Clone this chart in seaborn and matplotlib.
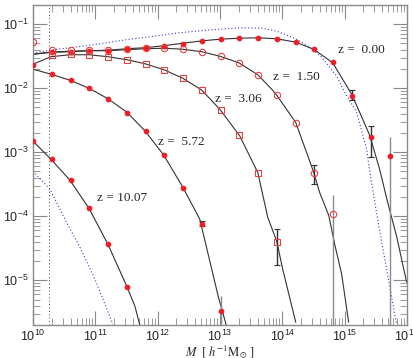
import numpy as np
import pandas as pd
import seaborn as sns
import matplotlib.pyplot as plt

# ── data points (mass bins, M/h^-1 Msun) ─────────────────────────────────────
mass = [1.0e10, 2.0e10, 4.0e10, 8.0e10, 1.6e11, 3.2e11, 6.4e11, 1.28e12, 2.56e12,
        5.12e12, 1.02e13, 2.05e13, 4.10e13, 8.19e13, 1.64e14, 3.28e14, 6.55e14,
        1.31e15, 2.62e15, 5.24e15]

z000_y = [np.nan, 0.0372, 0.0365, 0.0379, 0.0379, 0.0407, 0.0422, 0.0453, 0.0496, 0.0542,
          0.0583, 0.0604, 0.0611, 0.0598, 0.0523, 0.0407, 0.0255, 0.00764, 0.00171, 0.000866]
z150_y = [0.0533, 0.0397, 0.0392, 0.0397, 0.0392, 0.0407, 0.0422, 0.0422, 0.0403, 0.0369,
          0.0316, 0.0252, 0.0160, 0.00785, 0.00291, 0.000482, 0.000107]
z306_y = [np.nan, 0.0328, 0.0340, 0.0331, 0.0308, 0.0277, 0.0241, 0.0193, 0.0142, 0.00931,
          0.00453, 0.00189, 0.000467, 4.03e-5]
z572_y = [0.0229, 0.0166, 0.0133, 0.0100, 0.00686, 0.00417, 0.00215, 0.000898, 0.000281,
          7.69e-5, 3.31e-6]
z1007_y = [0.00149, 0.000778, 0.000365, 0.000133, 3.65e-5, 7.98e-6]

# error bars: (mass index, value, lower err, upper err)
z000_err = [(17, 0.00764, 0.0010, 0.0017), (18, 0.00171, 0.00086, 0.00087), (19, 0.000866, 0.000865, 0.00084)]
z150_err = [(15, 0.000482, 0.00016, 0.00016), (16, 0.000107, 0.0001069, 0.000106)]
z306_err = [(13, 4.03e-5, 2.3e-5, 2.3e-5)]
z572_err = [(9, 7.69e-5, 0.6e-5, 0.6e-5), (10, 3.31e-6, 3.309e-6, 2.4e-6)]

# ── fitted curves (log10 M, log10 y) ─────────────────────────────────────────
fit000_lm = [10.0, 10.288, 10.593, 10.897, 11.202, 11.506, 11.795, 12.099, 12.404, 12.708, 12.997,
             13.301, 13.606, 13.910, 14.215, 14.503, 14.808, 15.112, 15.240, 15.401, 15.561,
             15.689, 15.833, 15.994]
fit000_ly = [-1.469, -1.4375, -1.430, -1.414, -1.406, -1.383, -1.367, -1.336, -1.297, -1.261, -1.234,
             -1.219, -1.2125, -1.227, -1.281, -1.391, -1.602, -2.094, -2.375, -2.734, -3.266,
             -3.781, -4.3125, -5.031]
fit150_lm = [10.0, 10.288, 10.593, 10.897, 11.202, 11.506, 11.795, 12.099, 12.404, 12.708, 12.997,
             13.301, 13.606, 13.830, 13.910, 14.215, 14.503, 14.599, 14.744, 14.840, 14.952, 15.064]
fit150_ly = [-1.469, -1.4375, -1.422, -1.414, -1.414, -1.398, -1.383, -1.375, -1.391, -1.430, -1.5,
             -1.602, -1.789, -2.016, -2.109, -2.536, -3.3125, -3.63, -3.984, -4.4375, -4.906, -5.656]
fit306_lm = [10.0, 10.288, 10.593, 10.897, 11.202, 11.506, 11.795, 12.099, 12.404, 12.708, 12.997,
             13.317, 13.606, 13.766, 13.910, 14.006, 14.215]
fit306_ly = [-1.625, -1.508, -1.477, -1.477, -1.508, -1.555, -1.617, -1.711, -1.844, -2.031, -2.328,
             -2.745, -3.317, -4.016, -4.391, -4.828, -5.656]
fit572_lm = [10.0, 10.288, 10.593, 10.897, 11.202, 11.506, 11.795, 12.099, 12.404, 12.676, 12.970, 13.141]
fit572_ly = [-1.703, -1.781, -1.875, -2.0, -2.164, -2.375, -2.664, -3.047, -3.547, -4.047, -5.245, -5.844]
fit1007_lm = [10.0, 10.288, 10.593, 10.897, 11.202, 11.506, 11.635, 11.731]
fit1007_ly = [-2.828, -3.109, -3.4375, -3.875, -4.4375, -5.098, -5.406, -5.766]

# dotted comparison curves
ps000_lm = [10.0, 10.272, 10.913, 11.554, 11.827, 12.356, 12.837, 13.365, 13.670, 13.910, 14.199,
            14.439, 14.631, 14.872, 15.0, 15.192, 15.353, 15.401, 15.529, 15.673, 15.833]
ps000_ly = [-1.453, -1.406, -1.328, -1.234, -1.203, -1.133, -1.089, -1.055, -1.0625, -1.109, -1.219,
            -1.359, -1.516, -1.8125, -2.0625, -2.375, -2.953, -3.297, -4.047, -4.828, -5.6875]
ps1007_lm = [10.0, 10.272, 10.529, 10.753, 10.994, 11.282]
ps1007_ly = [-3.297, -3.578, -4.078, -4.484, -4.984, -5.6875]

mass_limit = 1.8e10

labels = ["z =  0.00", "z =  1.50", "z =  3.06", "z =  5.72", "z = 10.07"]
label_x = [7.9e14, 7.0e13, 8.3e12, 1.0e12, 1.06e11]
label_y = [0.0396, 0.0150, 0.0069, 0.00145, 0.000196]

# ── style ─────────────────────────────────────────────────────────────────────
sns.set_style("ticks")
plt.rcParams["font.family"] = ["Liberation Sans", "DejaVu Sans"]
plt.rcParams["mathtext.fontset"] = "stix"
red = "#ee1c24"
grey = "#8a8a8a"
serif = ["Liberation Serif", "DejaVu Serif"]

fig = plt.figure(figsize=(4.14, 3.58), dpi=100)
ax = fig.add_axes([0.0797, 0.0922, 0.9034, 0.894])
ax.set_xscale("log")
ax.set_yscale("log")

for lm, ly in [(fit000_lm, fit000_ly), (fit150_lm, fit150_ly), (fit306_lm, fit306_ly),
               (fit572_lm, fit572_ly), (fit1007_lm, fit1007_ly)]:
    df = pd.DataFrame({"M": 10 ** np.array(lm), "y": 10 ** np.array(ly)})
    sns.lineplot(data=df, x="M", y="y", sort=False, estimator=None, color="#333333",
                 linewidth=0.8, ax=ax)

for lm, ly in [(ps000_lm, ps000_ly), (ps1007_lm, ps1007_ly)]:
    df = pd.DataFrame({"M": 10 ** np.array(lm), "y": 10 ** np.array(ly)})
    sns.lineplot(data=df, x="M", y="y", sort=False, estimator=None, color="#3a3acc",
                 linewidth=0.8, linestyle=(0, (1, 2)), ax=ax)

ax.axvline(mass_limit, color="#444444", linewidth=0.7, linestyle=(0, (1, 2.5)))

# error bars
for errs in [z000_err, z150_err, z306_err, z572_err]:
    for i, v, lo, hi in errs:
        long_bar = (v - lo) / v < 0.01
        ax.errorbar(mass[i], v, yerr=[[lo], [hi]], fmt="none",
                    ecolor=grey if long_bar else "#333333", elinewidth=1.0,
                    capsize=0 if long_bar else 2.5, capthick=0.8, zorder=3)

# points
pts = [(z000_y, "o", True, 3.3), (z150_y, "o", False, 4.6), (z306_y, "s", False, 4.0),
       (z572_y, "o", True, 3.3), (z1007_y, "o", True, 3.3)]
for vals, mk, filled, ms in pts:
    df = pd.DataFrame({"M": mass[:len(vals)], "y": vals}).dropna()
    ax.plot(df["M"], df["y"], linestyle="none", marker=mk, markersize=ms,
            markerfacecolor=red if filled else "none", markeredgecolor=red if filled else "#e84040",
            markeredgewidth=0.8, zorder=4, clip_on=True)

for t, x, y in zip(labels, label_x, label_y):
    ax.text(x, y, t, family=serif, fontsize=9.5, ha="left", va="center")

ax.set_xlim(1e10, 1e16)
ax.set_ylim(2e-6, 0.2)
ax.set_xlabel(r"$M\ \ [\ h^{-1}\mathrm{M}_{\odot}\ ]$", fontsize=9)
ax.xaxis.set_label_coords(0.5, -0.056)
ax.set_ylabel(r"$M^2/\bar{\rho}\ \ \mathrm{d}n/\mathrm{d}M$", fontsize=9)
ax.yaxis.set_label_coords(-0.082, 0.43)

ax.tick_params(which="both", direction="in", top=True, right=True, color=grey, labelsize=9)
ax.tick_params(which="major", length=10, width=0.8, pad=3)
ax.tick_params(which="minor", length=5, width=0.6)
for s in ax.spines.values():
    s.set_color(grey)
    s.set_linewidth(1.0)

fig.savefig("out.png", dpi=100)
